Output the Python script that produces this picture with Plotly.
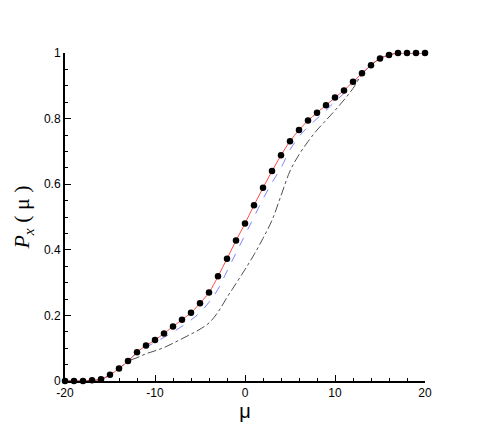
import plotly.graph_objects as go

mu = list(range(-20, 21))

# symbols (and red solid line through them)
p_dots = [0.0, 0.0, 0.0, 0.002, 0.005, 0.019, 0.038, 0.061, 0.088, 0.108, 0.125,
          0.145, 0.166, 0.187, 0.208, 0.237, 0.270, 0.319, 0.373, 0.428, 0.480,
          0.536, 0.589, 0.640, 0.688, 0.731, 0.765, 0.794, 0.818, 0.841, 0.864,
          0.886, 0.912, 0.938, 0.963, 0.983, 0.994, 1.0, 1.0, 1.0, 1.0]

# blue dashed curve
p_blue = [0.0, 0.0, 0.0, 0.002, 0.005, 0.019, 0.038, 0.061, 0.085, 0.103, 0.118,
          0.133, 0.149, 0.167, 0.186, 0.209, 0.240, 0.280, 0.335, 0.390, 0.445,
          0.500, 0.555, 0.605, 0.650, 0.705, 0.745, 0.775, 0.800, 0.825, 0.852,
          0.877, 0.905, 0.935, 0.963, 0.983, 0.994, 1.0, 1.0, 1.0, 1.0]

# gray dash-dot curve
p_gray = [0.0, 0.0, 0.0, 0.002, 0.005, 0.019, 0.038, 0.060, 0.071, 0.083, 0.092,
          0.102, 0.115, 0.129, 0.143, 0.158, 0.177, 0.210, 0.255, 0.297, 0.340,
          0.385, 0.435, 0.490, 0.565, 0.640, 0.690, 0.730, 0.765, 0.795, 0.825,
          0.857, 0.892, 0.935, 0.963, 0.983, 0.994, 1.0, 1.0, 1.0, 1.0]

fig = go.Figure()
fig.add_trace(go.Scatter(x=mu, y=p_gray, mode="lines",
                         line=dict(color="#505050", width=1, dash="dashdot", shape="spline"),
                         showlegend=False))
fig.add_trace(go.Scatter(x=mu, y=p_blue, mode="lines",
                         line=dict(color="#7f84ff", width=1, dash="dash", shape="spline"),
                         showlegend=False))
fig.add_trace(go.Scatter(x=mu, y=p_dots, mode="lines",
                         line=dict(color="#ff4a4a", width=1, shape="spline"),
                         showlegend=False))
fig.add_trace(go.Scatter(x=mu, y=p_dots, mode="markers",
                         marker=dict(color="black", size=6.5),
                         cliponaxis=False, showlegend=False))

axis_font = dict(family="Liberation Sans, Arial, sans-serif", size=12, color="black")

fig.update_layout(
    width=485, height=430,
    margin=dict(l=57, r=68, t=45, b=57),
    paper_bgcolor="white", plot_bgcolor="white",
    xaxis=dict(range=[-20, 20], tickvals=[-20, -10, 0, 10, 20],
               ticktext=["-20", "-10", "0", "10", "20"],
               ticks="inside", ticklen=6, tickwidth=1, tickcolor="black",
               minor=dict(ticks="inside", dtick=2, ticklen=3, tickcolor="black"),
               showline=True, linecolor="black", linewidth=2,
               showgrid=False, zeroline=False, tickfont=axis_font,
               title=dict(text="μ", font=dict(family="Liberation Sans, Arial", size=20, color="black"),
                          standoff=4)),
    yaxis=dict(range=[0, 1], tickvals=[0, 0.2, 0.4, 0.6, 0.8, 1],
               ticktext=["0", "0.2", "0.4", "0.6", "0.8", "1"],
               ticks="inside", ticklen=6, tickwidth=1, tickcolor="black",
               minor=dict(ticks="inside", dtick=0.05, ticklen=3, tickcolor="black"),
               showline=True, linecolor="black", linewidth=2,
               showgrid=False, zeroline=False, tickfont=axis_font,
               title=dict(text="<i>P</i><sub><i>x</i></sub> ( μ )",
                          font=dict(family="Liberation Serif, Times New Roman, serif", size=22, color="black"),
                          standoff=8)),
)

fig.write_html("out.html")
